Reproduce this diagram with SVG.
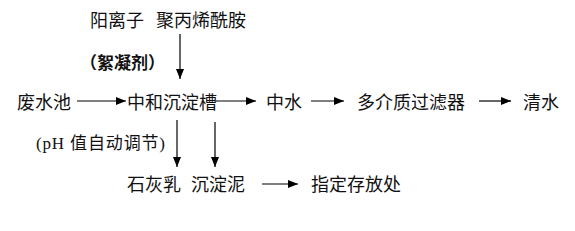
<svg xmlns="http://www.w3.org/2000/svg" width="575" height="231" viewBox="0 0 575 231">
<style>
text{font-family:"Noto Sans CJK SC","Noto Sans",sans-serif;font-size:18px;fill:#111}
.b{font-weight:bold;font-size:17px}
.s{font-family:"Liberation Serif","Noto Sans CJK SC",serif;font-size:17px}
.c line{stroke:#000;stroke-width:1.2;marker-end:url(#ah)}
</style>
<defs>
<marker id="ah" markerUnits="userSpaceOnUse" markerWidth="10" markerHeight="8" refX="10" refY="4" orient="auto">
<path d="M0,0 L10,4 L0,8 Z" fill="#000"/>
</marker>
</defs>
<rect width="575" height="231" fill="#fff"/>
<g id="n-cation"><text x="90" y="27">阳离子</text></g>
<g id="n-pam"><text x="156" y="27">聚丙烯酰胺</text></g>
<g id="n-floc"><text class="b" x="80" y="69">（絮凝剂）</text></g>
<g id="n-pool"><text x="17" y="109">废水池</text></g>
<g id="n-tank"><text x="127" y="109">中和沉淀槽</text></g>
<g id="n-mid"><text x="266" y="109">中水</text></g>
<g id="n-filter"><text x="357" y="109">多介质过滤器</text></g>
<g id="n-clear"><text x="523" y="109">清水</text></g>
<g id="n-ph"><text class="s" x="36" y="149" textLength="129" lengthAdjust="spacing">(pH 值自动调节)</text></g>
<g id="n-lime"><text x="127" y="191">石灰乳</text></g>
<g id="n-sludge"><text x="191" y="191">沉淀泥</text></g>
<g id="n-store"><text x="311" y="191">指定存放处</text></g>
<g class="c" id="connectors">
<line x1="180" y1="34" x2="180" y2="79"/>
<line x1="77" y1="101" x2="126" y2="101"/>
<line x1="216" y1="101" x2="256" y2="101"/>
<line x1="311" y1="101" x2="344" y2="101"/>
<line x1="479" y1="101" x2="511" y2="101"/>
<line x1="177" y1="120" x2="177" y2="167"/>
<line x1="215" y1="122" x2="215" y2="167"/>
<line x1="262" y1="184" x2="298" y2="184"/>
</g>
</svg>
